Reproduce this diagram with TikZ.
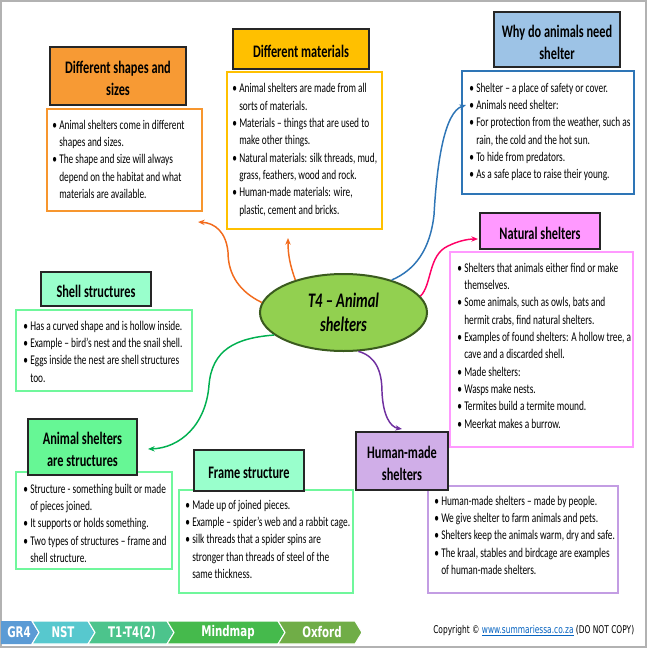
\documentclass[tikz,border=0pt]{standalone}
\usepackage{fontspec}
\setmainfont{Carlito}[FakeStretch=0.7]
\newfontfamily\footfont{DejaVu Sans}[FakeStretch=0.7]
\usetikzlibrary{shapes.geometric,fit,arrows.meta}
\definecolor{orfill}{HTML}{F79A34}
\definecolor{orline}{HTML}{F7962E}
\definecolor{gold}{HTML}{FFC000}
\definecolor{bluefill}{HTML}{9DC3E6}
\definecolor{blueline}{HTML}{2E75B6}
\definecolor{pinkc}{HTML}{FF99FF}
\definecolor{mint}{HTML}{99FFCC}
\definecolor{greenfill}{HTML}{66F795}
\definecolor{greenline}{HTML}{70F79C}
\definecolor{lavfill}{HTML}{D0AEE8}
\definecolor{lavline}{HTML}{C39DE3}
\definecolor{ellfill}{HTML}{92D050}
\definecolor{ellline}{HTML}{3A5A1E}
\definecolor{hdrline}{HTML}{262626}
\definecolor{cora}{HTML}{F26B1D}
\definecolor{cblue}{HTML}{2E75B6}
\definecolor{cpink}{HTML}{FF0066}
\definecolor{cpurple}{HTML}{7030A0}
\definecolor{cgreen}{HTML}{00B050}
\definecolor{fa}{HTML}{5B9BD5}
\definecolor{fb}{HTML}{57C8CE}
\definecolor{fc}{HTML}{4CC48C}
\definecolor{fd}{HTML}{45BA4C}
\definecolor{fe}{HTML}{70AD47}
\definecolor{linkblue}{HTML}{0563C1}
\newcommand\bu{\makebox[5.25pt][l]{\textbullet}}
\newcommand\cu{\hspace*{5.25pt}}
\tikzset{
  hdr/.style={draw=hdrline, line width=1.2pt, inner sep=0pt},
  hdrtext/.style={inner sep=0pt, align=center,
    font=\fontsize{13.2}{16.5}\selectfont\bfseries},
  bodybox/.style={line width=2.2pt, inner sep=0pt, fill=white},
  bodytext/.style={anchor=north west, inner sep=0pt, align=left,
    font=\fontsize{10}{13}\selectfont},
  conn/.style={line width=1.1pt, -{Stealth[length=5pt,width=4pt]}},
  foottext/.style={text=white, inner sep=0pt, font=\footfont\bfseries\fontsize{11}{13}\selectfont},
  chev/.style={draw=white, line width=0.8pt}
}
\begin{document}
\begin{tikzpicture}[x=0.75pt,y=-0.75pt]
\useasboundingbox (0,0) rectangle (650,650);
\fill[white] (0,0) rectangle (650,650);
\draw[black!30, line width=1pt] (1,1) rectangle (646,647);

% body boxes
\node[bodybox, draw=orline, fit={(47,109) (202,211)}] (b1) {};
\node[bodybox, draw=gold, fit={(227,72) (382,229)}] (b2) {};
\node[bodybox, draw=blueline, fit={(462,71) (634,194)}] (b3) {};
\node[bodybox, draw=pinkc, fit={(450,252) (633,447)}] (b4) {};
\node[bodybox, draw=greenline, fit={(16,310) (192,391)}] (b5) {};
\node[bodybox, draw=greenline, fit={(16,472) (172,569)}] (b6) {};
\node[bodybox, draw=greenline, fit={(179,490) (353,593)}] (b7) {};
\node[bodybox, draw=lavline, fit={(428,486) (618,593)}] (b8) {};

% headers
\node[hdr, fill=orfill, fit={(50,47) (186,105)}] (h1) {};
\node[hdr, fill=gold, fit={(233,29) (369,69)}] (h2) {};
\node[hdr, fill=bluefill, fit={(494,12) (620,67)}] (h3) {};
\node[hdr, fill=pinkc, fit={(480,213) (600,249)}] (h4) {};
\node[hdr, fill=mint, fit={(41,272) (151,306)}] (h5) {};
\node[hdr, fill=greenfill, fit={(28,419) (137,475)}] (h6) {};
\node[hdr, fill=mint, fit={(194,450) (304,491)}] (h7) {};
\node[hdr, fill=lavfill, fit={(356,432) (448,490)}] (h8) {};
\node[hdrtext] (h1t) at ([yshift=-2pt]h1.center) {Different shapes and\\sizes};
\node[hdrtext] (h2t) at ([yshift=-1.5pt]h2.center) {Different materials};
\node[hdrtext] (h3t) at ([yshift=-2pt]h3.center) {Why do animals need\\shelter};
\node[hdrtext] (h4t) at ([yshift=-1.5pt]h4.center) {Natural shelters};
\node[hdrtext] (h5t) at ([yshift=-1.5pt]h5.center) {Shell structures};
\node[hdrtext] (h6t) at ([yshift=-2pt]h6.center) {Animal shelters\\are structures};
\node[hdrtext] (h7t) at ([yshift=-1.5pt]h7.center) {Frame structure};
\node[hdrtext] (h8t) at ([yshift=-2pt]h8.center) {Human-made\\shelters};

% body texts
\node[bodytext] (t1) at (52,116.9) {\strut\bu Animal shelters come in different\\\cu shapes and sizes.\\\bu The shape and size will always\\\cu depend on the habitat and what\\\cu materials are available.};
\node[bodytext] (t2) at (232,80.4) {\strut\bu Animal shelters are made from all\\\cu sorts of materials.\\\bu Materials – things that are used to\\\cu make other things.\\\bu Natural materials: silk threads, mud,\\\cu grass, feathers, wood and rock.\\\bu Human-made materials: wire,\\\cu plastic, cement and bricks.};
\node[bodytext] (t3) at (469,79.9) {\strut\bu Shelter – a place of safety or cover.\\\bu Animals need shelter:\\\bu For protection from the weather, such as\\\cu rain, the cold and the hot sun.\\\bu To hide from predators.\\\bu As a safe place to raise their young.};
\node[bodytext] (t4) at (457,259.9) {\strut\bu Shelters that animals either find or make\\\cu themselves.\\\bu Some animals, such as owls, bats and\\\cu hermit crabs, find natural shelters.\\\bu Examples of found shelters: A hollow tree, a\\\cu cave and a discarded shell.\\\bu Made shelters:\\\bu Wasps make nests.\\\bu Termites build a termite mound.\\\bu Meerkat makes a burrow.};
\node[bodytext] (t5) at (23,317.9) {\strut\bu Has a curved shape and is hollow inside.\\\bu Example – bird’s nest and the snail shell.\\\bu Eggs inside the nest are shell structures\\\cu too.};
\node[bodytext] (t6) at (23,480.9) {\strut\bu Structure - something built or made\\\cu of pieces joined.\\\bu It supports or holds something.\\\bu Two types of structures – frame and\\\cu shell structure.};
\node[bodytext] (t7) at (185,496.9) {\strut\bu Made up of joined pieces.\\\bu Example – spider’s web and a rabbit cage.\\\bu silk threads that a spider spins are\\\cu stronger than threads of steel of the\\\cu same thickness.};
\node[bodytext] (t8) at (434,492.9) {\strut\bu Human-made shelters – made by people.\\\bu We give shelter to farm animals and pets.\\\bu Shelters keep the animals warm, dry and safe.\\\bu The kraal, stables and birdcage are examples\\\cu of human-made shelters.};

% centre
\node[ellipse, draw=ellline, fill=ellfill, line width=1.5pt, minimum width=167*0.75pt,
  minimum height=77*0.75pt, inner sep=0pt, align=center,
  font=\fontsize{15.5}{18}\selectfont\bfseries\itshape] (ell) at (343.5,312.5) {T4 – Animal\\shelters};

% arrow ends
\coordinate (e1) at (198,222);
\coordinate (e2) at (288,238);
\coordinate (e3) at (466,105);
\coordinate (e4) at (478,239);
\coordinate (e5) at (402,429);
\coordinate (e6) at (148,449);

\draw[conn, cora] (ell.173) .. controls (240,292) and (228,275) .. (228,252) .. controls (226,232) and (215,223) .. (e1);
\draw[conn, cora] (ell.146) .. controls (290,265) and (288,255) .. (e2);
\draw[conn, cblue] (ell.34) .. controls (415,270) and (430,250) .. (434,215) .. controls (437,160) and (445,112) .. (e3);
\draw[conn, cpink] (ell.12) .. controls (432,285) and (428,255) .. (448,246) .. controls (458,241) and (468,239) .. (e4);
\draw[conn, cpurple] (ell.291) .. controls (375,356) and (382,370) .. (382,392) .. controls (383,415) and (390,427) .. (e5);
\draw[conn, cgreen] (ell.198) .. controls (235,338) and (212,350) .. (209,385) .. controls (206,425) and (180,448) .. (e6);

% footer
\fill[fa] (1,621) -- (32,621) -- (39,632.5) -- (32,644) -- (1,644) -- cycle;
\draw[chev] (32,621) -- (39,632.5) -- (32,644);
\filldraw[chev, fill=fb] (32,621) -- (88,621) -- (95,632.5) -- (88,644) -- (32,644) -- (39,632.5) -- cycle;
\filldraw[chev, fill=fc] (88,621) -- (167,621) -- (174,632.5) -- (167,644) -- (88,644) -- (95,632.5) -- cycle;
\filldraw[chev, fill=fd] (167,621) -- (278,621) -- (285,632.5) -- (278,644) -- (167,644) -- (174,632.5) -- cycle;
\filldraw[chev, fill=fe] (278,621) -- (355,621) -- (362,632.5) -- (355,644) -- (278,644) -- (285,632.5) -- cycle;
\node[foottext] (f1) at (19,632.5) {GR4};
\node[foottext] (f2) at (63,632.5) {NST};
\node[foottext] (f3) at (132,632.5) {T1-T4(2)};
\node[foottext] (f4) at (228,632.5) {Mindmap};
\node[foottext] (f5) at (322,632.5) {Oxford};
\node[anchor=base west, inner sep=0pt, font=\footfont\fontsize{8}{10}\selectfont] (copy) at (433,633)
  {Copyright © \textcolor{linkblue}{\underline{www.summariessa.co.za}} (DO NOT COPY)};
\end{tikzpicture}
\end{document}
